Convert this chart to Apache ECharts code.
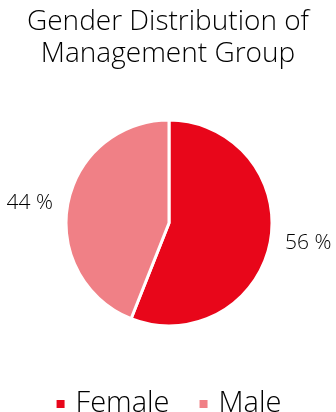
<!DOCTYPE html>
<html>
<head>
<meta charset="utf-8">
<script src="https://cdn.jsdelivr.net/npm/echarts@6/dist/echarts.min.js"></script>
<style>
  html, body { margin: 0; padding: 0; background: #fff; }
  #chart { width: 336px; height: 412px; }
</style>
</head>
<body>
<div id="chart"></div>
<script>
const titleText = 'Gender Distribution of\nManagement Group';
const categories = ['Female', 'Male'];
const shares = [56, 44];
const colors = ['#e8061a', '#f08086'];

const chart = echarts.init(document.getElementById('chart'));
const fontFamily = '"Open Sans", sans-serif';

chart.setOption({
  animation: false,
  title: {
    text: titleText,
    left: 'center',
    top: 1,
    textStyle: { fontFamily, fontSize: 28, fontWeight: 300, color: '#000', lineHeight: 32 }
  },
  color: colors,
  legend: {
    top: 384,
    left: 'center',
    icon: 'rect',
    itemWidth: 10,
    itemHeight: 10,
    itemGap: 28,
    data: categories,
    textStyle: { fontFamily, fontSize: 29, fontWeight: 300, color: '#000', lineHeight: 30, padding: [0, 0, 0, 5] }
  },
  series: [{
    type: 'pie',
    center: [169, 223],
    radius: [0, 103],
    startAngle: 90,
    clockwise: true,
    itemStyle: { borderColor: '#fff', borderWidth: 3 },
    label: {
      show: true,
      formatter: '{c} %',
      overflow: 'none',
      fontFamily,
      fontSize: 21,
      fontWeight: 300,
      color: '#000'
    },
    labelLine: { show: false, length: 6, length2: 4 },
    emphasis: { disabled: true },
    data: categories.map((name, i) => ({ name, value: shares[i] }))
  }]
});
</script>
</body>
</html>
